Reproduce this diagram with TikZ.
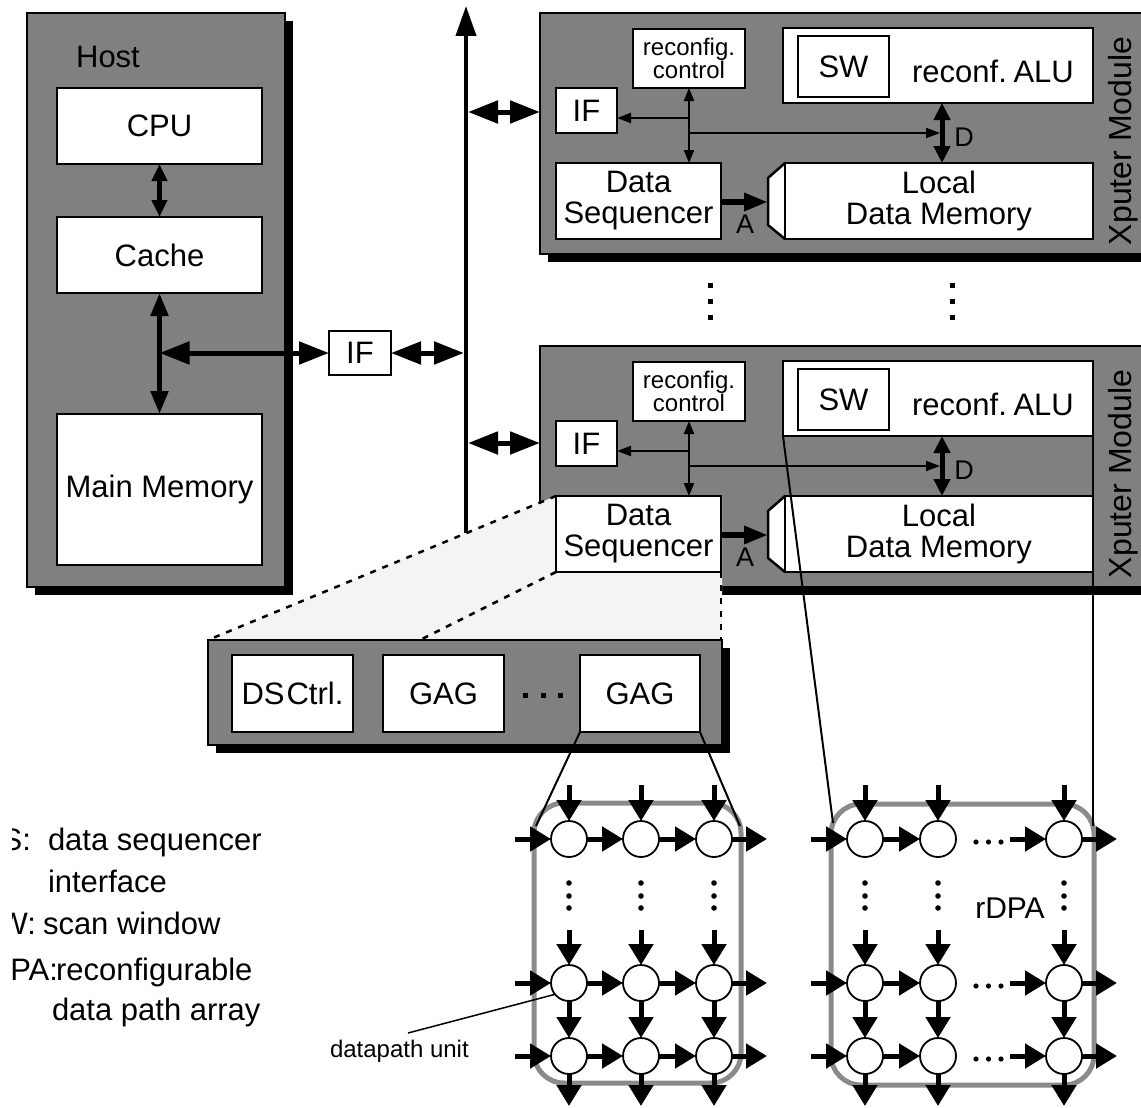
\documentclass[tikz,border=0pt]{standalone}
\usepackage{fontspec}
\setmainfont{Liberation Sans}
\usetikzlibrary{arrows.meta,calc}
\definecolor{boxgrey}{HTML}{808080}
\definecolor{fanfill}{HTML}{F4F4F4}
\definecolor{ringgrey}{HTML}{8A8A8A}
\tikzset{
 fbig/.style={font=\fontsize{31}{31}\selectfont},
 fsmall/.style={font=\fontsize{24}{19}\selectfont},
 flabel/.style={font=\fontsize{24}{24}\selectfont},
 fletter/.style={font=\fontsize{27}{27}\selectfont},
 greybox/.style={fill=boxgrey, draw=black, line width=2pt, anchor=north west},
 wbox/.style={fill=white, draw=black, line width=2.5pt, fbig, align=center, anchor=north west},
 dshadow/.style={fill=black},
 hostarrA/.style={line width=4.5pt, {Triangle[length=17pt,width=15pt]}-{Triangle[length=17pt,width=15pt]}},
 hostarrB/.style={line width=5pt, {Triangle[length=23pt,width=17pt]}-{Triangle[length=23pt,width=17pt]}},
 busarr/.style={line width=5pt, {Triangle[length=30pt,width=22pt]}-{Triangle[length=30pt,width=22pt]}},
 thinarr/.style={line width=2pt, -{Triangle[length=14pt,width=10pt]}},
 thinarrB/.style={line width=2pt, {Triangle[length=13pt,width=10pt]}-{Triangle[length=13pt,width=10pt]}},
 darr/.style={line width=5pt, {Triangle[length=17pt,width=16pt]}-{Triangle[length=17pt,width=16pt]}},
 aarr/.style={line width=6pt, -{Triangle[length=24pt,width=17pt]}},
 gridarr/.style={line width=5pt, -{Triangle[length=21pt,width=24pt]}},
 dpu/.style={circle, draw=black, fill=white, line width=1.8pt, minimum size=36pt, inner sep=0pt},
 fanline/.style={line width=2.5pt, dash pattern=on 6pt off 7pt},
 zoomline/.style={line width=2pt},
 ring/.style={draw=ringgrey, line width=5pt, rounded corners=30pt},
}
\newcommand\ModInner[2]{%
 \node[wbox, fsmall, minimum width=112, minimum height=59] (rc#1) at (633,29+#2) {reconfig.\\control};
 \node[wbox, minimum width=61, minimum height=45] (if#1) at (556,88+#2) {IF};
 \node[wbox, minimum width=310, minimum height=75] (alu#1) at (783,28+#2) {};
 \node[wbox, minimum width=91, minimum height=61] (sw#1) at (798,36+#2) {SW};
 \node[fbig, anchor=base] (alut#1) at (993,82+#2) {reconf.\kern-2pt\ ALU};
 \node[wbox, minimum width=165, minimum height=76] (ds#1) at (556,163+#2) {Data\\Sequencer};
 \draw[line width=2.5pt, fill=white] (785,163+#2) -- (768,178+#2) -- (768,225+#2) -- (785,239+#2);
 \node[wbox, minimum width=308, minimum height=76] (ldm#1) at (785,163+#2) {Local\\Data Memory};
 \coordinate (ja#1) at (689,118+#2);
 \coordinate (jb#1) at (689,133+#2);
 \coordinate (dl#1) at (940,133+#2);
 \coordinate (dx#1) at (942,0);
 \coordinate (ay#1) at (0,202+#2);
 \coordinate (tr#1) at (768,202+#2);
 \draw[thinarrB] (rc#1.south) -- (rc#1.south |- ds#1.north);
 \draw[thinarr] (ja#1) -- (ja#1 -| if#1.east);
 \draw[thinarr] (jb#1) -- (dl#1);
 \draw[darr] (alu#1.south -| dx#1) -- (ldm#1.north -| dx#1);
 \draw[aarr] (ds#1.east |- ay#1) -- (tr#1);
 \node[fletter] (alab#1) at (745,224+#2) {A};
 \node[fletter] (dlab#1) at (964,137+#2) {D};
 \node[font=\fontsize{32}{32}\selectfont, rotate=90] (xm#1) at (1123,141+#2) {Xputer Module};
}
\begin{document}
\begin{tikzpicture}[x=1pt,y=-1pt, every node/.style={inner sep=0pt, outer sep=0pt}]
\useasboundingbox (0,0) rectangle (1141,1108);
\clip (0,0) rectangle (1141,1108);

% ---------------- Host
\fill[dshadow] (35,21) rectangle (293,595);
\node[greybox, minimum width=258, minimum height=574] (host) at (27,13) {};
\node[fbig] (hostlbl) at (108,57) {Host};
\node[wbox, minimum width=205, minimum height=76] (cpu) at (57,88) {CPU};
\node[wbox, minimum width=205, minimum height=76] (cache) at (57,217) {Cache};
\node[wbox, minimum width=205, minimum height=151] (mm) at (57,414) {Main Memory};
\draw[hostarrA] (cpu.south) -- (cache.north);
\draw[hostarrB] (cache.south) -- (mm.north);
\node[wbox, minimum width=62, minimum height=44] (hif) at (329,331) {IF};
\coordinate (hj) at (cache.south |- hif.west);
\draw[busarr] (hj) -- (hif.west);
\coordinate (busL) at (464,0);
\coordinate (busR) at (468,0);
\draw[busarr] (hif.east) -- (hif.east -| busL);
\coordinate (busbot) at (466,533);
\coordinate (bustop) at (466,6);
\draw[line width=4pt, -{Triangle[length=30pt,width=20pt]}] (busbot) -- (bustop);

% ---------------- Module 1
\fill[dshadow] (548,21) rectangle (1160,262);
\node[greybox, minimum width=620, minimum height=241] (mod1) at (540,13) {};
\coordinate (m1y) at (0,112);
\draw[busarr] (busR |- m1y) -- (mod1.west |- m1y);
\ModInner{1}{0}

% ---------------- Module 2 frame
\fill[dshadow] (548,354) rectangle (1160,595);
\node[greybox, minimum width=620, minimum height=241] (mod2) at (540,346) {};
\coordinate (m2y) at (0,443);
\draw[busarr] (busR |- m2y) -- (mod2.west |- m2y);

% ---------------- zoom fan
\fill[fanfill] (556,496) -- (208,640) -- (722,640) -- (722,496) -- cycle;

% ---------------- DS container
\fill[dshadow] (216,648) rectangle (730,753);
\node[greybox, minimum width=514, minimum height=105] (cont) at (208,640) {};
\node[wbox, minimum width=121, minimum height=77] (dsc) at (232,655) {DS\kern2pt Ctrl.};
\node[wbox, minimum width=121, minimum height=77] (gag1) at (383,655) {GAG};
\node[wbox, minimum width=120, minimum height=77] (gag2) at (580,655) {GAG};
\foreach \x in {522.5,541,557.5} \fill (\x,692.5) rectangle +(5,5);

% ---------------- Module 2 inner
\ModInner{2}{333}
\coordinate (fanmid) at (420,0);
\draw[fanline] (ds2.north west) -- (cont.north west);
\draw[fanline] (ds2.south west) -- (cont.north -| fanmid);
\draw[fanline] (ds2.south east) -- (ds2.south east |- cont.north);

% dots between modules
\foreach \x in {707.5,949.5} \foreach \y in {283,299,315} \fill (\x,\y) rectangle +(5,5);

% ---------------- arrays
\draw[ring] (534,803) rectangle (741,1083);
\draw[ring] (831,804) rectangle (1094,1085);
\foreach \r/\y in {1/839,2/983,3/1056} {
  \foreach \c/\x in {1/569,2/641,3/714} { \node[dpu] (L-\r-\c) at (\x,\y) {}; }
  \foreach \c/\x in {1/865,2/938,3/1064} { \node[dpu] (R-\r-\c) at (\x,\y) {}; }
}
\foreach \r in {1,2,3} {
 \draw[gridarr] ($(L-\r-1.west)+(-36,0)$) -- (L-\r-1.west);
 \draw[gridarr] (L-\r-1) -- (L-\r-2);
 \draw[gridarr] (L-\r-2) -- (L-\r-3);
 \draw[gridarr] (L-\r-3.east) -- ++(35,0);
 \draw[gridarr] ($(R-\r-1.west)+(-36,0)$) -- (R-\r-1.west);
 \draw[gridarr] (R-\r-1) -- (R-\r-2);
 \draw[gridarr] ($(R-\r-3.west)+(-36,0)$) -- (R-\r-3.west);
 \draw[gridarr] (R-\r-3.east) -- ++(35,0);
}
\foreach \c in {1,2,3} {
 \draw[gridarr] ($(L-1-\c.north)+(0,-36)$) -- (L-1-\c.north);
 \draw[gridarr] ($(L-2-\c.north)+(0,-35)$) -- (L-2-\c.north);
 \draw[gridarr] (L-2-\c) -- (L-3-\c);
 \draw[gridarr] (L-3-\c.south) -- ++(0,32);
 \draw[gridarr] ($(R-1-\c.north)+(0,-36)$) -- (R-1-\c.north);
 \draw[gridarr] ($(R-2-\c.north)+(0,-35)$) -- (R-2-\c.north);
 \draw[gridarr] (R-2-\c) -- (R-3-\c);
 \draw[gridarr] (R-3-\c.south) -- ++(0,32);
}
\foreach \x in {569,641,714,865,938,1064} \foreach \y in {883,896,908} \fill (\x,\y) circle (2.8);
\foreach \y in {842,986,1059} \foreach \x in {976,988.5,1001} \fill (\x,\y) circle (2.6);
\node[font=\fontsize{30}{30}\selectfont] (rdpa) at (1010,908) {rDPA};

% ---------------- zoom lines
\coordinate (rlA) at (536,826);
\coordinate (rlB) at (740,826);
\coordinate (rrA) at (833,823);
\coordinate (rrB) at (1093,826);
\draw[zoomline] (gag2.south west) -- (rlA);
\draw[zoomline] (gag2.south east) -- (rlB);
\draw[zoomline] (alu2.south west) -- (rrA);
\draw[zoomline] (alu2.south east) -- (rrB);

% ---------------- legend
\begin{scope}
\clip (12,790) rectangle (420,1045);
\node[fbig, anchor=base east] (lg1a) at (31,850) {DS:};
\node[fbig, anchor=base west] (lg1b) at (48,850) {data sequencer};
\node[fbig, anchor=base west] (lg1c) at (48,892) {interface};
\node[fbig, anchor=base east] (lg2a) at (36,934) {SW:};
\node[fbig, anchor=base west] (lg2b) at (43,934) {scan window};
\node[fbig, anchor=base east] (lg3a) at (58,980) {rDPA:};
\node[fbig, anchor=base west] (lg3b) at (56,980) {reconfigurable};
\node[fbig, anchor=base west] (lg3c) at (52,1020) {data path array};
\end{scope}
\node[flabel, anchor=base west] (dpl) at (330,1057) {datapath unit};
\coordinate (dplc) at (408,1033);
\draw[line width=1.5pt] (dplc) -- (L-2-1.219);
\end{tikzpicture}
\end{document}
